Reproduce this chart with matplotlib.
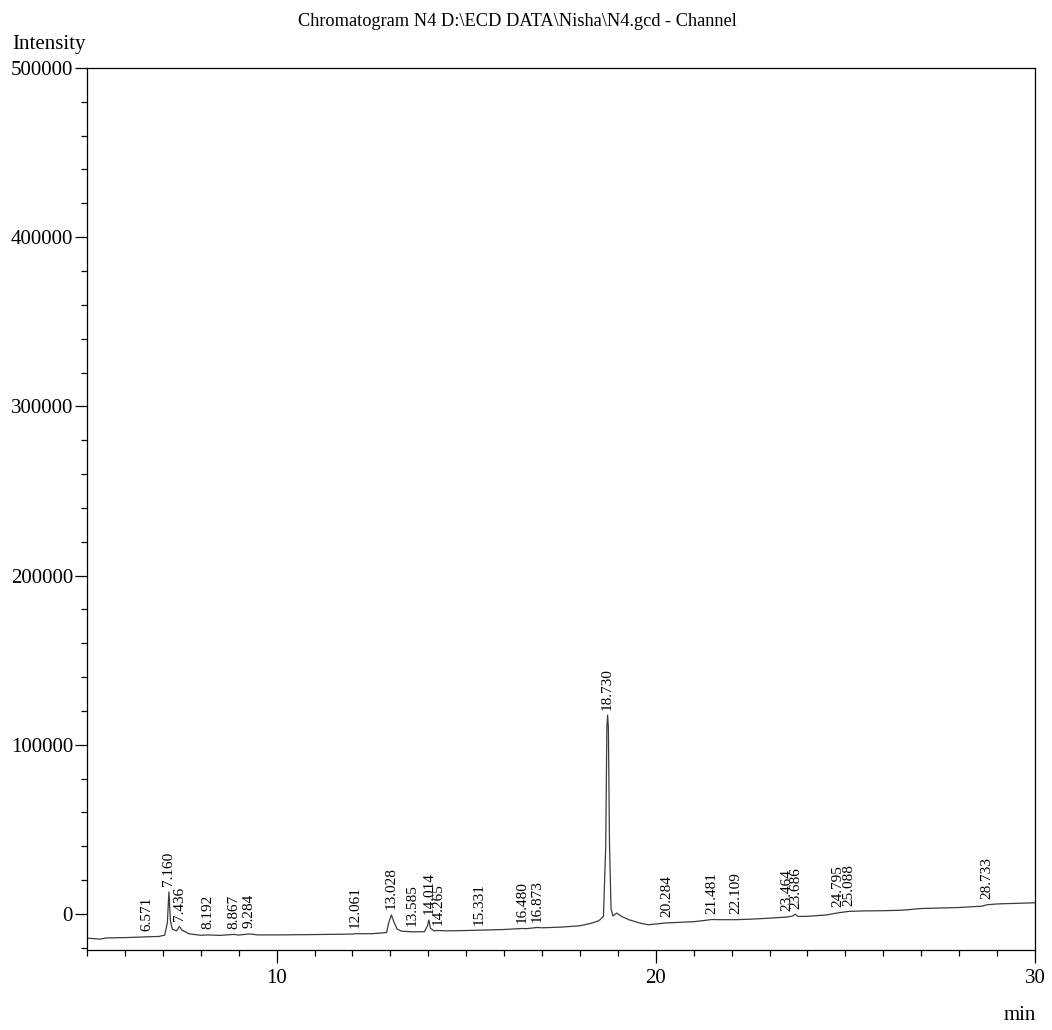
import numpy as np
import matplotlib.pyplot as plt
from matplotlib.ticker import MultipleLocator

tempo = [5.0, 5.35, 5.5, 6.0, 6.5, 6.9, 7.05, 7.12, 7.16, 7.20, 7.25, 7.36, 7.436, 7.5, 7.7,
         8.0, 8.192, 8.5, 8.867, 9.0, 9.284, 9.5, 10.0, 11.0, 12.0, 12.061, 12.5, 12.9,
         12.96, 13.028, 13.09, 13.18, 13.3, 13.585, 13.9, 13.98, 14.014, 14.06, 14.15,
         14.265, 14.5, 15.0, 15.331, 16.0, 16.48, 16.6, 16.873, 17.0, 17.5, 18.0, 18.3,
         18.5, 18.62, 18.68, 18.71, 18.73, 18.75, 18.78, 18.82, 18.87, 18.97, 19.1, 19.3,
         19.6, 19.8, 20.284, 20.6, 21.0, 21.3, 21.481, 21.7, 22.109, 22.5, 23.0, 23.464,
         23.6, 23.686, 23.75, 24.0, 24.5, 24.795, 25.088, 25.5, 26.0, 26.5, 27.0, 27.5,
         28.0, 28.6, 28.733, 29.0, 30.0]
intensidade = [-14300, -14900, -14200, -14000, -13600, -13300, -12500, -5000, 13000, -4000,
               -9000, -10000, -7500, -9500, -11800, -12600, -12400, -12700, -12100, -12500,
               -11800, -12400, -12400, -12200, -11900, -11700, -11700, -11000, -5000, -600,
               -4500, -9000, -10200, -10600, -10500, -7000, -3600, -8500, -10000, -9800,
               -10000, -9800, -9600, -9200, -8600, -8700, -8000, -8200, -7800, -7000, -5500,
               -4000, -1500, 40000, 110000, 117500, 110000, 40000, 3000, -1200, 500, -1500,
               -3500, -5500, -6400, -5300, -5000, -4600, -3800, -3300, -3400, -3400, -3100,
               -2500, -1800, -1300, -200, -1500, -1400, -600, 600, 1500, 1800, 1900, 2200,
               3200, 3500, 3800, 4600, 5400, 5900, 6600]

# picos identificados
picos = ['6.571', '7.160', '7.436', '8.192', '8.867', '9.284', '12.061', '13.028', '13.585',
         '14.014', '14.265', '15.331', '16.480', '16.873', '18.730', '20.284', '21.481',
         '22.109', '23.464', '23.686', '24.795', '25.088', '28.733']

plt.rcParams['font.family'] = ['Liberation Serif', 'DejaVu Serif']

fig = plt.figure(figsize=(10.52, 10.30), dpi=100)
ax = fig.add_axes([0.0827, 0.0777, 0.9011, 0.8563])

ax.plot(tempo, intensidade, color='#3a3a3a', lw=0.9)

for p in picos:
    t = float(p)
    y = np.interp(t, tempo, intensidade)
    ax.annotate(p, (t, y), xytext=(0, 4), textcoords='offset points', rotation=90,
                ha='center', va='bottom', fontsize=11)

ax.set_xlim(5, 30)
ax.set_ylim(-21300, 500000)
ax.xaxis.set_major_locator(MultipleLocator(10))
ax.xaxis.set_minor_locator(MultipleLocator(1))
ax.yaxis.set_major_locator(MultipleLocator(100000))
ax.yaxis.set_minor_locator(MultipleLocator(20000))
ax.set_yticks(range(0, 500001, 100000))
ax.set_yticklabels([str(v) for v in range(0, 500001, 100000)])
ax.tick_params(which='major', length=9, width=0.9, labelsize=15, pad=1)
ax.tick_params(which='minor', length=4.5, width=0.9)
ax.tick_params(axis='x', pad=5)
for s in ax.spines.values():
    s.set_linewidth(0.9)

fig.text(0.0114, 0.948, 'Intensity', fontsize=15, ha='left', va='bottom')
fig.text(0.985, 0.005, 'min', fontsize=15, ha='right', va='bottom')
fig.text(0.492, 0.979, 'Chromatogram N4 D:\\ECD DATA\\Nisha\\N4.gcd - Channel',
         fontsize=13.2, ha='center', va='center')

fig.savefig('out.png', dpi=100)
